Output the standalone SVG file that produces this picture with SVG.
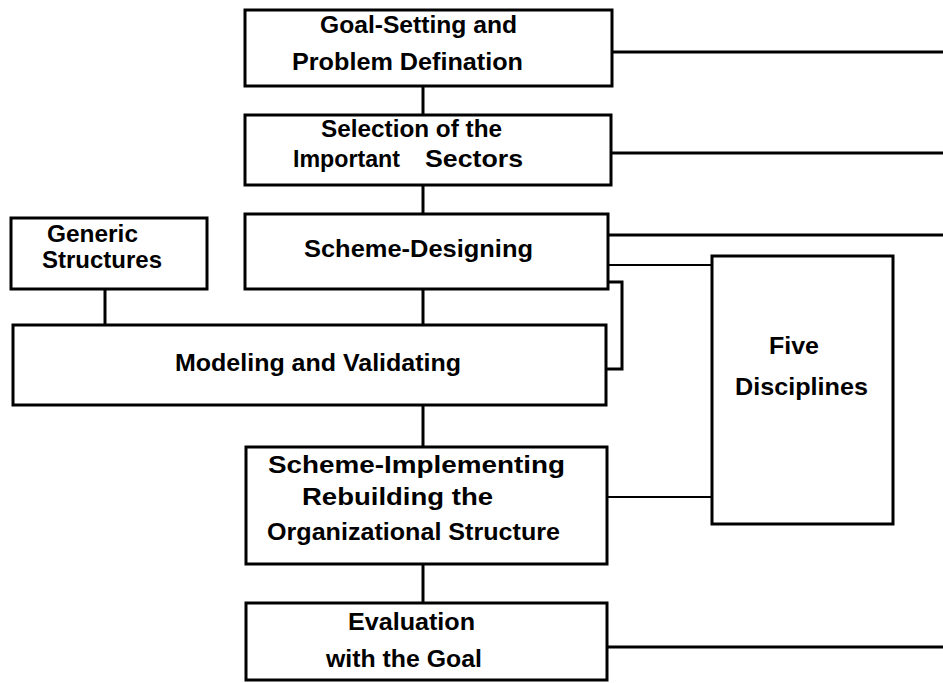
<svg xmlns="http://www.w3.org/2000/svg" width="943" height="683" viewBox="0 0 943 683">
<style>
.box{fill:#fff;stroke:#000;stroke-width:3}
.ln{fill:none;stroke:#000;stroke-width:3}
.thin{fill:none;stroke:#000;stroke-width:2}
text{font-family:"Liberation Sans",Arial,sans-serif;font-weight:bold;font-size:24px;fill:#000}
</style>
<rect width="943" height="683" fill="#fff"/>
<g id="connectors">
<line class="ln" x1="423" y1="86" x2="423" y2="115"/>
<line class="ln" x1="423" y1="185" x2="423" y2="215"/>
<line class="ln" x1="423" y1="289" x2="423" y2="325"/>
<line class="ln" x1="423" y1="405" x2="423" y2="447"/>
<line class="ln" x1="423" y1="564" x2="423" y2="603"/>
<line class="ln" x1="105" y1="289" x2="105" y2="325"/>
<line class="ln" x1="612" y1="52" x2="943" y2="52"/>
<line class="ln" x1="611" y1="153" x2="943" y2="153"/>
<line class="ln" x1="608" y1="235" x2="943" y2="235"/>
<line class="thin" x1="608" y1="265" x2="712" y2="265"/>
<line class="thin" x1="607" y1="497" x2="712" y2="497"/>
<line class="ln" x1="607" y1="647" x2="943" y2="647"/>
<polyline class="ln" points="608,282 622,282 622,369 606,369"/>
</g>
<g id="goal">
<rect class="box" x="245" y="10" width="367" height="76"/>
<text x="320" y="33" textLength="197" lengthAdjust="spacingAndGlyphs">Goal-Setting and</text>
<text x="292" y="70" textLength="231" lengthAdjust="spacingAndGlyphs">Problem Defination</text>
</g>
<g id="selection">
<rect class="box" x="245" y="115" width="366" height="70"/>
<text x="321" y="137" textLength="181" lengthAdjust="spacingAndGlyphs">Selection of the</text>
<text x="293" y="167" textLength="107" lengthAdjust="spacingAndGlyphs">Important</text>
<text x="425" y="167" textLength="98" lengthAdjust="spacingAndGlyphs">Sectors</text>
</g>
<g id="designing">
<rect class="box" x="245" y="214" width="363" height="75"/>
<text x="304" y="257" textLength="229" lengthAdjust="spacingAndGlyphs">Scheme-Designing</text>
</g>
<g id="generic">
<rect class="box" x="11" y="218" width="196" height="71"/>
<text x="47" y="242" textLength="91" lengthAdjust="spacingAndGlyphs">Generic</text>
<text x="42" y="268" textLength="120" lengthAdjust="spacingAndGlyphs">Structures</text>
</g>
<g id="modeling">
<rect class="box" x="13" y="325" width="593" height="80"/>
<text x="175" y="371" textLength="286" lengthAdjust="spacingAndGlyphs">Modeling and Validating</text>
</g>
<g id="five">
<rect class="box" x="712" y="256" width="181" height="268"/>
<text x="769" y="354" textLength="50" lengthAdjust="spacingAndGlyphs">Five</text>
<text x="735" y="395" textLength="133" lengthAdjust="spacingAndGlyphs">Disciplines</text>
</g>
<g id="implementing">
<rect class="box" x="246" y="447" width="361" height="117"/>
<text x="268" y="473" textLength="297" lengthAdjust="spacingAndGlyphs">Scheme-Implementing</text>
<text x="302" y="505" textLength="191" lengthAdjust="spacingAndGlyphs">Rebuilding the</text>
<text x="267" y="540" textLength="293" lengthAdjust="spacingAndGlyphs">Organizational Structure</text>
</g>
<g id="evaluation">
<rect class="box" x="246" y="603" width="361" height="77"/>
<text x="348" y="630" textLength="127" lengthAdjust="spacingAndGlyphs">Evaluation</text>
<text x="326" y="667" textLength="156" lengthAdjust="spacingAndGlyphs">with the Goal</text>
</g>
</svg>
